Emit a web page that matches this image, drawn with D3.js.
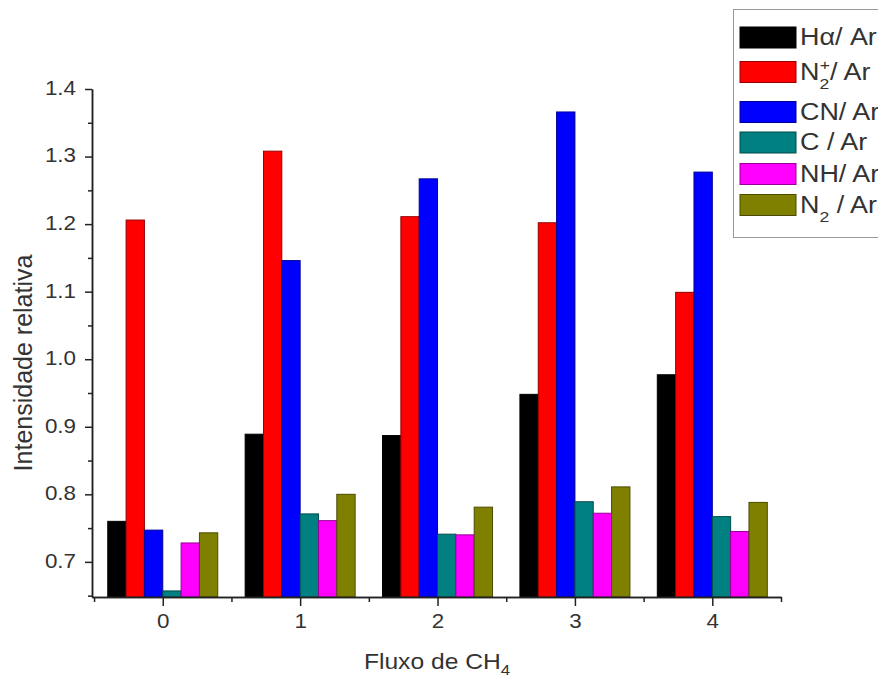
<!DOCTYPE html>
<html>
<head>
<meta charset="utf-8">
<script src="https://cdnjs.cloudflare.com/ajax/libs/d3/7.8.5/d3.min.js"></script>
<style>
  body { margin: 0; background: #fff; }
  svg text { font-family: "Liberation Sans", Arial, sans-serif; fill: #333; }
</style>
</head>
<body>
<script>
// data
const fluxo = [0, 1, 2, 3, 4];
const series = ["Ha", "N2p", "CN", "C", "NH", "N2"];
const seriesColors = ["#000000", "#ff0000", "#0000ff", "#008080", "#ff00ff", "#808000"];
// legend labels as text pieces: [text, "sub"|"sup"|""]
const seriesLabels = [
  [["Hα/ Ar", ""]],
  [["N", ""], ["2", "sub"], ["+", "sup"], ["/ Ar", ""]],
  [["CN/ Ar", ""]],
  [["C / Ar", ""]],
  [["NH/ Ar", ""]],
  [["N", ""], ["2", "sub"], [" / Ar", ""]]
];
const Ha  = [0.760, 0.889, 0.887, 0.948, 0.977];
const N2p = [1.206, 1.308, 1.211, 1.202, 1.099];
const CN  = [0.747, 1.146, 1.267, 1.366, 1.277];
const C   = [0.657, 0.771, 0.741, 0.789, 0.767];
const NH  = [0.728, 0.761, 0.740, 0.772, 0.745];
const N2  = [0.743, 0.800, 0.781, 0.811, 0.788];
const values = [Ha, N2p, CN, C, NH, N2];
const yTicks = [0.7, 0.8, 0.9, 1.0, 1.1, 1.2, 1.3, 1.4];
const yMinor = [0.65, 0.75, 0.85, 0.95, 1.05, 1.15, 1.25, 1.35];
const xMinor = [-0.5, 0.5, 1.5, 2.5, 3.5, 4.5];

const w = 878, h = 680;
const sx = 1.12; // the picture's text is a bit wider than plain Arial

const svg = d3.select("body").append("svg")
  .attr("width", w)
  .attr("height", h);

const x = d3.scaleLinear().domain([-0.515, 4.5]).range([92, 781]);
const y = d3.scaleLinear().domain([0.648, 1.4]).range([597, 89]);
const inner = d3.scaleBand().domain(series).range([-55, 55]).padding(0);

// bars
fluxo.forEach((f, i) => {
  const g = svg.append("g");
  series.forEach((s, k) => {
    const v = values[k][i];
    g.append("rect")
      .attr("x", x(f) + inner(s))
      .attr("y", y(v))
      .attr("width", inner.bandwidth())
      .attr("height", y(0.648) - y(v))
      .attr("fill", seriesColors[k])
      .attr("stroke", d3.color(seriesColors[k]).darker(1.5))
      .attr("stroke-width", 1);
  });
});

// axes
const yAxis = d3.axisLeft(y).tickValues(yTicks).tickFormat(d3.format(".1f"))
  .tickSize(7).tickSizeOuter(0).tickPadding(9);
const yAxisMinor = d3.axisLeft(y).tickValues(yMinor).tickFormat("")
  .tickSize(4).tickSizeOuter(0);
const xAxis = d3.axisBottom(x).tickValues(fluxo).tickFormat(d3.format("d"))
  .tickSize(9).tickSizeOuter(0).tickPadding(8);
const xAxisMinor = d3.axisBottom(x).tickValues(xMinor).tickFormat("")
  .tickSize(5).tickSizeOuter(0);

svg.append("g").attr("transform", "translate(92,0)").call(yAxisMinor);
const gy = svg.append("g").attr("transform", "translate(92,0)").call(yAxis);
svg.append("g").attr("transform", "translate(0,597)").call(xAxisMinor);
const gx = svg.append("g").attr("transform", "translate(0,597)").call(xAxis);

svg.selectAll(".domain, .tick line").attr("stroke", "#222").attr("stroke-width", 1.5);
svg.selectAll(".tick text").style("font-size", "20px").attr("fill", "#333");
gy.selectAll(".tick text")
  .attr("x", 0)
  .attr("transform", "translate(-16,-1) scale(" + sx + ",1)");
gx.selectAll(".tick text")
  .attr("transform", "scale(" + sx + ",1)");

// axis titles
svg.append("text")
  .attr("transform", "translate(32,363) rotate(-90)")
  .attr("text-anchor", "middle")
  .style("font-size", "25px")
  .text("Intensidade relativa");

const xt = svg.append("text")
  .attr("transform", "translate(437,669) scale(" + sx + ",1)")
  .attr("text-anchor", "middle")
  .style("font-size", "22px");
xt.append("tspan").text("Fluxo de CH");
xt.append("tspan").attr("dy", 6).style("font-size", "15px").text("4");

// legend
const legendY = [37.5, 72, 112, 142.5, 174, 205];
const lg = svg.append("g");
lg.append("rect")
  .attr("x", 733.5).attr("y", 9.5)
  .attr("width", 160).attr("height", 228)
  .attr("fill", "#fff")
  .attr("stroke", "#999");

series.forEach((s, k) => {
  const cy = legendY[k];
  lg.append("rect")
    .attr("x", 740).attr("y", cy - 10.5)
    .attr("width", 56).attr("height", 21)
    .attr("fill", seriesColors[k])
    .attr("stroke", d3.color(seriesColors[k]).darker(1.5));
  const t = lg.append("text")
    .attr("transform", "translate(800," + (cy + 7.5) + ") scale(1.17,1)")
    .style("font-size", "23px");
  let prev = "";
  seriesLabels[k].forEach(([txt, kind]) => {
    const sp = t.append("tspan").text(txt);
    if (kind === "sub") {
      sp.attr("dy", 9).style("font-size", "15px");
    } else if (kind === "sup") {
      sp.attr("dy", -19).attr("dx", -8).style("font-size", "15px");
    } else if (prev === "sub") {
      sp.attr("dy", -9);
    } else if (prev === "sup") {
      sp.attr("dy", 10);
    }
    prev = kind;
  });
});
</script>
</body>
</html>
